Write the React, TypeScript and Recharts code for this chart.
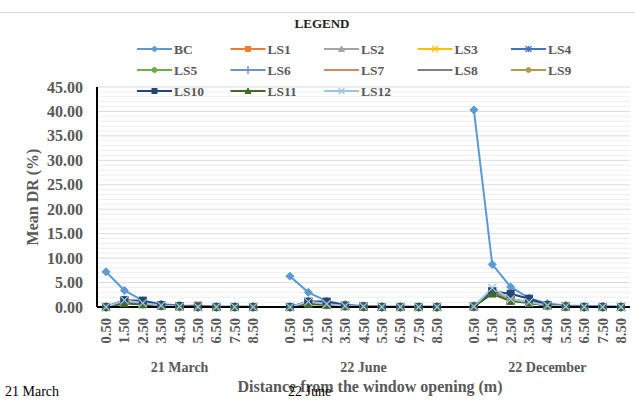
import React from "react";
import { LineChart, Line, XAxis, YAxis, CartesianGrid, ReferenceLine, Legend } from "recharts";

const distances = ["0.50", "1.50", "2.50", "3.50", "4.50", "5.50", "6.50", "7.50", "8.50"];
const groupNames = ["21 March", "22 June", "22 December"];
const seriesNames = ["BC", "LS1", "LS2", "LS3", "LS4", "LS5", "LS6", "LS7", "LS8", "LS9", "LS10", "LS11", "LS12"];
const seriesColors = ["#5B9BD5", "#ED7D31", "#A5A5A5", "#FFC000", "#4472C4", "#70AD47", "#6F95C8", "#C9896A", "#7F7F7F", "#B39B4E", "#264478", "#43682B", "#9DC3E6"];
const seriesMarkers = ["diamond", "square", "triangle", "x", "star", "circle", "plus", "dash", "dash", "circle", "square", "triangle", "x"];

// values: 21 March (9), 22 June (9), 22 December (9)
const bcValues = [7.2, 3.4, 1.3, 0.6, 0.3, 0.2, 0.1, 0.1, 0.1, 6.3, 3.0, 1.2, 0.5, 0.2, 0.1, 0.1, 0.1, 0.1, 40.3, 8.7, 4.1, 1.8, 0.7, 0.3, 0.2, 0.2, 0.1];
const ls1Values = [0, 1.3, 0.7, 0.3, 0.1, 0.3, 0, 0, 0, 0, 1.0, 0.6, 0.2, 0.1, 0, 0, 0, 0, 0.1, 3.0, 1.5, 0.9, 0.3, 0.1, 0, 0, 0];
const ls2Values = [0, 1.2, 0.6, 0.2, 0.1, 0, 0, 0, 0, 0, 0.9, 0.5, 0.2, 0.1, 0, 0, 0, 0, 0.1, 2.9, 1.4, 0.9, 0.3, 0.1, 0, 0, 0];
const ls3Values = [0, 1.3, 0.7, 0.3, 0.1, 0, 0, 0, 0, 0, 1.0, 0.6, 0.2, 0.1, 0, 0, 0, 0, 0.1, 3.1, 1.5, 1.0, 0.3, 0.1, 0, 0, 0];
const ls4Values = [0, 1.3, 0.8, 0.3, 0.1, 0, 0, 0, 0, 0, 1.0, 0.6, 0.2, 0.1, 0, 0, 0, 0, 0.1, 3.2, 1.6, 1.0, 0.3, 0.1, 0, 0, 0];
const ls5Values = [0, 1.1, 0.6, 0.2, 0.1, 0, 0, 0, 0, 0, 0.8, 0.5, 0.2, 0.1, 0, 0, 0, 0, 0.1, 2.8, 1.3, 0.9, 0.3, 0.1, 0, 0, 0];
const ls6Values = [0, 1.3, 0.7, 0.3, 0.1, 0, 0, 0, 0, 0, 1.0, 0.6, 0.2, 0.1, 0, 0, 0, 0, 0.1, 3.1, 1.5, 1.0, 0.3, 0.1, 0, 0, 0];
const ls7Values = [0, 1.2, 0.7, 0.3, 0.1, 0.3, 0, 0, 0, 0, 1.0, 0.6, 0.2, 0.1, 0, 0, 0, 0, 0.1, 3.0, 1.5, 1.0, 0.4, 0.1, 0, 0, 0];
const ls8Values = [0, 1.2, 0.6, 0.2, 0.1, 0, 0, 0, 0, 0, 0.9, 0.5, 0.2, 0.1, 0, 0, 0, 0, 0.1, 2.9, 1.4, 0.9, 0.3, 0.1, 0, 0, 0];
const ls9Values = [0, 1.1, 0.6, 0.2, 0.1, 0.2, 0, 0, 0, 0, 0.9, 0.5, 0.2, 0.1, 0, 0, 0, 0, 0.1, 2.9, 1.4, 1.0, 0.4, 0.1, 0, 0, 0];
const ls10Values = [0, 1.4, 1.3, 0.4, 0.2, 0.1, 0, 0, 0, 0, 1.1, 1.1, 0.3, 0.1, 0, 0, 0, 0, 0.1, 3.2, 2.7, 1.7, 0.4, 0.1, 0, 0, 0];
const ls11Values = [0, 0.7, 0.5, 0.2, 0.1, 0, 0, 0, 0, 0, 0.6, 0.4, 0.1, 0, 0, 0, 0, 0, 0.1, 2.7, 1.2, 0.8, 0.3, 0.1, 0, 0, 0];
const ls12Values = [0, 1.4, 0.8, 0.3, 0.1, 0, 0, 0, 0, 0, 1.1, 0.6, 0.2, 0.1, 0, 0, 0, 0, 0.1, 3.9, 1.6, 1.0, 0.3, 0.1, 0, 0, 0];

const yTicks = [0, 5, 10, 15, 20, 25, 30, 35, 40, 45];
const minorTicks = Array.from({ length: 45 }, (_, i) => i + 1).filter((v) => v % 5 !== 0);

const seriesValues = [bcValues, ls1Values, ls2Values, ls3Values, ls4Values, ls5Values, ls6Values, ls7Values, ls8Values, ls9Values, ls10Values, ls11Values, ls12Values];

type Row = { [k: string]: any };
const data: Row[] = [];
groupNames.forEach((g, gi) => {
  if (gi > 0) data.push({ cat: `gap${gi}`, label: "", group: "" });
  distances.forEach((d, di) => {
    const row: Row = { cat: `${gi}-${d}`, label: d, group: di === 4 ? g : "" };
    seriesNames.forEach((s, si) => {
      row[s] = seriesValues[si][gi * 9 + di];
    });
    data.push(row);
  });
});

const FONT = "'Liberation Serif', 'Times New Roman', serif";
const TXT = "#595959";

function MarkerShape({ shape, cx, cy, color, s = 4 }: any) {
  switch (shape) {
    case "diamond":
      return <polygon points={`${cx},${cy - s} ${cx + s},${cy} ${cx},${cy + s} ${cx - s},${cy}`} fill={color} stroke={color} />;
    case "square":
      return <rect x={cx - s + 0.5} y={cy - s + 0.5} width={2 * s - 1} height={2 * s - 1} fill={color} stroke={color} />;
    case "triangle":
      return <polygon points={`${cx},${cy - s} ${cx + s},${cy + s * 0.8} ${cx - s},${cy + s * 0.8}`} fill={color} stroke={color} />;
    case "x":
      return (
        <g stroke={color} strokeWidth={1.3}>
          <line x1={cx - s} y1={cy - s} x2={cx + s} y2={cy + s} />
          <line x1={cx - s} y1={cy + s} x2={cx + s} y2={cy - s} />
        </g>
      );
    case "star":
      return (
        <g stroke={color} strokeWidth={1.3}>
          <line x1={cx - s} y1={cy - s} x2={cx + s} y2={cy + s} />
          <line x1={cx - s} y1={cy + s} x2={cx + s} y2={cy - s} />
          <line x1={cx} y1={cy - s} x2={cx} y2={cy + s} />
        </g>
      );
    case "circle":
      return <circle cx={cx} cy={cy} r={s - 0.5} fill={color} stroke={color} />;
    case "plus":
      return (
        <g stroke={color} strokeWidth={1.5}>
          <line x1={cx} y1={cy - s - 1} x2={cx} y2={cy + s + 1} />
        </g>
      );
    case "dash":
      return <rect x={cx - s} y={cy - 1} width={2 * s} height={2} fill={color} />;
    default:
      return null;
  }
}

const makeDot = (shape: string, color: string) => (props: any) => {
  const { cx, cy, index } = props;
  if (cx == null || cy == null || props.value == null) return <g key={`d-${index}`} />;
  return (
    <g key={`d-${index}`}>
      <MarkerShape shape={shape} cx={cx} cy={cy} color={color} />
    </g>
  );
};

const XTick = (props: any) => {
  const { x, y, payload } = props;
  const row = data[payload.index];
  if (!row) return <g />;
  return (
    <g>
      {row.label ? (
        <text
          x={x}
          y={y + 11}
          dy="0.35em"
          transform={`rotate(-90, ${x}, ${y + 11})`}
          textAnchor="end"
          fill={TXT}
          fontFamily={FONT}
          fontWeight="bold"
          fontSize={14.5}
        >
          {row.label}
        </text>
      ) : null}
      {row.group ? (
        <text x={x} y={y + 65} textAnchor="middle" fill={TXT} fontFamily={FONT} fontWeight="bold" fontSize={14}>
          {row.group}
        </text>
      ) : null}
    </g>
  );
};

const YTick = (props: any) => {
  const { x, y, payload } = props;
  return (
    <text x={x} y={y} dy="0.35em" textAnchor="end" fill={TXT} fontFamily={FONT} fontWeight="bold" fontSize={16}>
      {Number(payload.value).toFixed(2)}
    </text>
  );
};

const LegendContent = () => {
  const colX = [137, 230.5, 324, 417.5, 511];
  const rowY = [49, 70, 91];
  return (
    <svg width={635} height={100} style={{ display: "block", overflow: "visible" }}>
      <text x={322} y={23} dy="0.35em" textAnchor="middle" fill="#222" fontFamily={FONT} fontWeight="bold" fontSize={13}>
        LEGEND
      </text>
      {seriesNames.map((name, i) => {
        const x = colX[i % 5];
        const y = rowY[Math.floor(i / 5)];
        const c = seriesColors[i];
        return (
          <g key={name}>
            <line x1={x} y1={y} x2={x + 35} y2={y} stroke={c} strokeWidth={2} />
            <MarkerShape shape={seriesMarkers[i]} cx={x + 17.5} cy={y} color={c} s={3} />
            <text x={x + 37} y={y} dy="0.35em" fill={TXT} fontFamily={FONT} fontWeight="bold" fontSize={13.5}>
              {name}
            </text>
          </g>
        );
      })}
    </svg>
  );
};

export default function App() {
  return (
    <div style={{ position: "absolute", left: 0, top: 0, width: 635, height: 401, background: "#fff", overflow: "hidden" }}>
      <div style={{ position: "absolute", left: 0, top: 12, width: 635, height: 0, borderTop: "1px solid #D9D9D9" }} />
      <LineChart width={635} height={401} data={data} margin={{ top: 87, right: 5, bottom: 0, left: 0 }}>
        {minorTicks.map((v) => (
          <ReferenceLine key={`m${v}`} y={v} stroke="#EEEEEE" strokeWidth={1} />
        ))}
        <CartesianGrid vertical={false} stroke="#DCDCDC" horizontalValues={yTicks} />
        <XAxis
          dataKey="cat"
          interval={0}
          height={94}
          tickLine={false}
          tickSize={0}
          tickMargin={0}
          padding={{ left: 9, right: 9 }}
          axisLine={{ stroke: "#000", strokeWidth: 2 }}
          tick={<XTick />}
        />
        <YAxis
          domain={[0, 45]}
          ticks={yTicks}
          interval={0}
          width={97}
          tickLine={false}
          tickSize={0}
          tickMargin={14}
          axisLine={{ stroke: "#000", strokeWidth: 2 }}
          tick={<YTick />}
        />
        <Legend
          layout="horizontal"
          verticalAlign="middle"
          align="center"
          content={<LegendContent />}
          wrapperStyle={{ position: "absolute", top: 0, left: 0, width: 635, height: 100, pointerEvents: "none" }}
        />
        {seriesNames.map((name, i) => (
          <Line
            key={name}
            dataKey={name}
            type="linear"
            stroke={seriesColors[i]}
            strokeWidth={2}
            dot={makeDot(seriesMarkers[i], seriesColors[i])}
            activeDot={false}
            isAnimationActive={false}
          />
        ))}
      </LineChart>
      <div
        style={{
          position: "absolute",
          left: 33,
          top: 197,
          transform: "translate(-50%, -50%) rotate(-90deg)",
          whiteSpace: "nowrap",
          fontFamily: FONT,
          fontWeight: "bold",
          fontSize: 16,
          color: TXT,
        }}
      >
        Mean DR (%)
      </div>
      <div
        style={{
          position: "absolute",
          left: 370,
          top: 387,
          transform: "translate(-50%, -50%)",
          whiteSpace: "nowrap",
          fontFamily: FONT,
          fontWeight: "bold",
          fontSize: 16,
          color: TXT,
        }}
      >
        Distance from the window opening (m)
      </div>
      <div style={{ position: "absolute", left: 5, top: 383, fontFamily: FONT, fontSize: 14, color: "#000", whiteSpace: "nowrap", lineHeight: "18px" }}>
        21 March
      </div>
      <div style={{ position: "absolute", left: 288, top: 383, fontFamily: FONT, fontSize: 14, color: "#000", whiteSpace: "nowrap", lineHeight: "18px" }}>
        22 June
      </div>
    </div>
  );
}
